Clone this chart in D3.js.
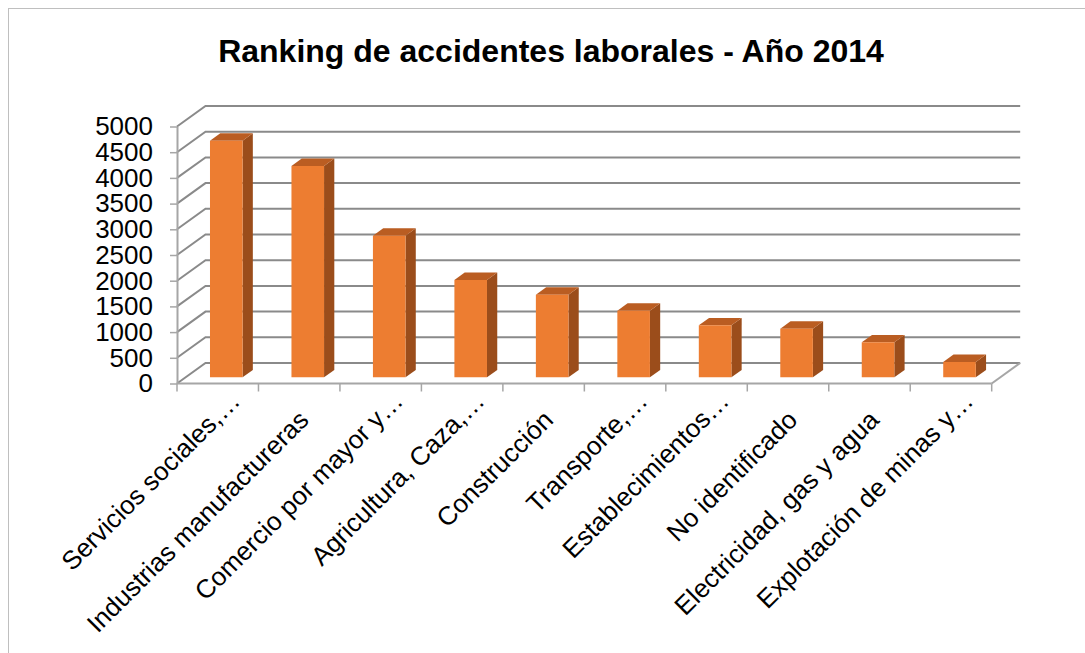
<!DOCTYPE html>
<html>
<head>
<meta charset="utf-8">
<script src="https://cdn.jsdelivr.net/npm/d3@7"></script>
<style>
  body { margin: 0; background: #fff; }
  svg { display: block; font-family: "Liberation Sans", Arial, sans-serif; }
</style>
</head>
<body>
<div id="chart"></div>
<script>
// data
const categories = [
    "Servicios sociales,…",
    "Industrias manufactureras",
    "Comercio por mayor y…",
    "Agricultura, Caza,…",
    "Construcción",
    "Transporte,…",
    "Establecimientos…",
    "No identificado",
    "Electricidad, gas y agua",
    "Explotación de minas y…"
];
const accidents = [4604, 4112, 2756, 1894, 1608, 1297, 1013, 947, 682, 299];
const yTicks = [0, 500, 1000, 1500, 2000, 2500, 3000, 3500, 4000, 4500, 5000];
const title = "Ranking de accidentes laborales - Año 2014";

const width = 1085, height = 653;

// 3d look: depth vector of the plot box, bars sit between f1 and f2 of it
const depth = {x: 28.5, y: -20.5};
const f1 = 0.3, f2 = 0.66;

const svg = d3.select("#chart").append("svg")
    .attr("width", width)
    .attr("height", height);

svg.append("rect")
    .attr("x", 8.5).attr("y", 8.5)
    .attr("width", width + 20).attr("height", height + 20)
    .attr("fill", "#fff")
    .attr("stroke", "#BFBFBF");

svg.append("text")
    .attr("x", 551).attr("y", 62)
    .attr("text-anchor", "middle")
    .attr("font-size", 32)
    .attr("font-weight", "bold")
    .text(title);

const x = d3.scaleBand()
    .domain(categories)
    .range([177, 991.7])
    .paddingInner(0.6)
    .paddingOuter(0.3);

const y = d3.scaleLinear()
    .domain([0, 5000])
    .range([383.5, 126.5]);

const x0 = x.range()[0], x1 = x.range()[1];

// walls: side wall diagonals + back wall lines
const grid = svg.append("g")
    .attr("stroke", "#8A8A8A")
    .attr("stroke-width", 2)
    .attr("fill", "none");

grid.selectAll("path")
    .data(yTicks)
    .join("path")
    .attr("d", v => {
        const p = d3.path();
        p.moveTo(x0, y(v));
        p.lineTo(x0 + depth.x, y(v) + depth.y);
        p.lineTo(x1 + depth.x, y(v) + depth.y);
        return p.toString();
    });

// floor right edge
svg.append("line")
    .attr("x1", x1).attr("y1", y(0))
    .attr("x2", x1 + depth.x).attr("y2", y(0) + depth.y)
    .attr("stroke", "#A6A6A6")
    .attr("stroke-width", 2);

// value axis
const yAxis = svg.append("g")
    .attr("transform", `translate(${x0},0)`)
    .call(d3.axisLeft(y)
        .tickValues(yTicks)
        .tickFormat(d3.format("d"))
        .tickSize(7).tickSizeOuter(0).tickPadding(17));

yAxis.select(".domain").attr("stroke", "#A6A6A6").attr("stroke-width", 2);
yAxis.selectAll(".tick line").attr("stroke", "#A6A6A6").attr("stroke-width", 1.5);
yAxis.selectAll(".tick text")
    .attr("font-size", 26)
    .attr("font-family", "Liberation Sans, Arial, sans-serif")
    .attr("fill", "#000");

// category axis
svg.append("line")
    .attr("x1", x0).attr("y1", y(0))
    .attr("x2", x1).attr("y2", y(0))
    .attr("stroke", "#A6A6A6")
    .attr("stroke-width", 2);

svg.append("g")
    .attr("stroke", "#A6A6A6")
    .attr("stroke-width", 1.5)
    .selectAll("line")
    .data(d3.range(categories.length + 1))
    .join("line")
    .attr("x1", i => x0 + i * x.step())
    .attr("x2", i => x0 + i * x.step())
    .attr("y1", y(0))
    .attr("y2", y(0) + 8);

// bars
const bars = svg.append("g")
    .selectAll("g")
    .data(categories.map((c, i) => ({c: c, v: accidents[i]})))
    .join("g");

const corner = (px, py, f) => [px + depth.x * f, py + depth.y * f];

bars.append("path")
    .attr("fill", "#9B4D1B")
    .attr("d", d => {
        const xr = x(d.c) + x.bandwidth();
        return d3.line()([
            corner(xr, y(0), f1), corner(xr, y(0), f2),
            corner(xr, y(d.v), f2), corner(xr, y(d.v), f1)
        ]) + "Z";
    });

bars.append("path")
    .attr("fill", "#BA5D22")
    .attr("d", d => {
        const xl = x(d.c), xr = x(d.c) + x.bandwidth();
        return d3.line()([
            corner(xl, y(d.v), f1), corner(xl, y(d.v), f2),
            corner(xr, y(d.v), f2), corner(xr, y(d.v), f1)
        ]) + "Z";
    });

bars.append("path")
    .attr("fill", "#ED7D31")
    .attr("d", d => {
        const xl = x(d.c), xr = x(d.c) + x.bandwidth();
        return d3.line()([
            corner(xl, y(0), f1), corner(xr, y(0), f1),
            corner(xr, y(d.v), f1), corner(xl, y(d.v), f1)
        ]) + "Z";
    });

// category labels, rotated
svg.append("g")
    .selectAll("text")
    .data(categories)
    .join("text")
    .attr("text-anchor", "end")
    .attr("font-size", 26)
    .attr("fill", "#000")
    .attr("transform", c => {
        const cx = x(c) + x.bandwidth() / 2;
        const cut = c.endsWith("…");
        const px = cx + (cut ? 24 : 11);
        const py = y(0) + (cut ? 19 : 38);
        return `translate(${px},${py}) rotate(-45)`;
    })
    .text(c => c);
</script>
</body>
</html>
